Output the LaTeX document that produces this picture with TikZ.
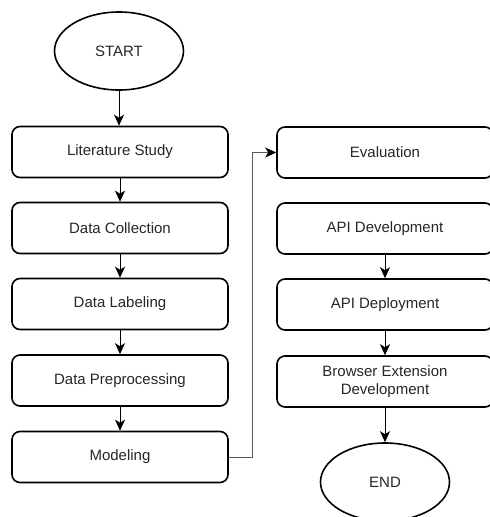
\documentclass[tikz,border=0pt]{standalone}
\usepackage{fontspec}
\setmainfont{Liberation Sans}
\usetikzlibrary{arrows.meta,shapes.geometric}
\begin{document}
\begin{tikzpicture}[x=1pt,y=-1pt,
  stepbox/.style={draw=black,line width=1.6pt,rounded corners=8pt,minimum width=216pt,minimum height=51pt,inner sep=0pt,align=center,font=\fontsize{15}{18}\selectfont,text=black!85},
  term/.style={draw=black,line width=1.6pt,ellipse,minimum width=129pt,minimum height=78pt,inner sep=0pt,font=\fontsize{15}{18}\selectfont,text=black!85},
  arr/.style={draw=black,line width=1pt,-{Stealth[length=11pt,width=10pt,inset=3pt]}},
  link/.style={draw=black!65,line width=0.9pt,-{Stealth[length=11pt,width=10pt,inset=3pt,color=black]}}]
\useasboundingbox (0,0) rectangle (490,517);
\clip (0,0) rectangle (490,517);
\node[term] (start) at (119,51) {START};
\node[stepbox] (lit) at (120,152) {Literature Study};
\node[stepbox] (coll) at (120,228) {Data Collection};
\node[stepbox] (lab) at (120,304) {Data Labeling};
\node[stepbox] (pre) at (120,380.5) {Data Preprocessing};
\node[stepbox] (mod) at (120,457) {Modeling};
\node[stepbox] (eval) at (385,152.5) {Evaluation};
\node[stepbox] (apidev) at (385,228.5) {API Development};
\node[stepbox] (apidep) at (385,304.5) {API Deployment};
\node[stepbox] (ext) at (385,381.5) {Browser Extension\\Development};
\node[term] (end) at (385,482) {END};
\coordinate (c1) at (252,457);
\coordinate (c2) at (252,152.5);
\draw[arr] (start.south) -- (start.south |- lit.north);
\draw[arr] (lit) -- (coll);
\draw[arr] (coll) -- (lab);
\draw[arr] (lab) -- (pre);
\draw[arr] (pre) -- (mod);
\draw[link] (mod.east) -- (c1) -- (c2) -- (eval.west);
\draw[arr] (apidev) -- (apidep);
\draw[arr] (apidep) -- (ext);
\draw[arr] (ext) -- (end);
\end{tikzpicture}
\end{document}
